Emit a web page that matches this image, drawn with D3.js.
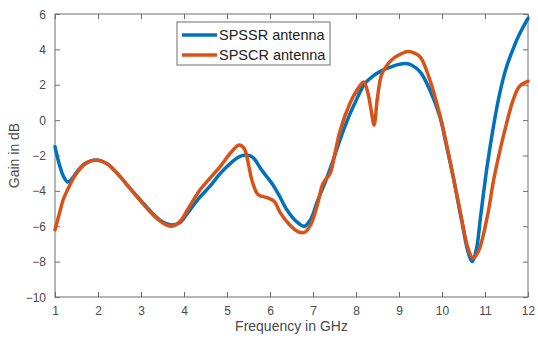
<!DOCTYPE html>
<html lang="en">
<head>
  <meta charset="UTF-8">
  <title>Gain vs frequency</title>
  <style>
    body { margin: 0; background: #fff; }
    text { font-family: "Liberation Sans", Arial, sans-serif; }
  </style>
</head>
<body>
<div id="chart"></div>
<script src="https://d3js.org/d3.v7.min.js"></script>
<script>

  // series data
  var seriesNames = ["SPSSR antenna", "SPSCR antenna"];
  var seriesColors = ["#0072BD", "#D95319"];

  var ssrFreq = [1.0, 1.1, 1.2, 1.3, 1.4, 1.5, 1.7, 1.95, 2.2, 2.5, 2.74, 3.0, 3.3, 3.5, 3.7, 3.9, 4.1, 4.37, 4.6, 4.85,
    5.1, 5.3, 5.45, 5.6, 5.8, 6.05, 6.2, 6.4, 6.6, 6.8, 6.95, 7.1, 7.3, 7.45, 7.63, 7.85, 8.0, 8.2, 8.4, 8.6,
    8.8, 9.0, 9.15, 9.3, 9.5, 9.7, 9.95, 10.1, 10.26, 10.45, 10.6, 10.7, 10.8, 10.9, 11.05, 11.2, 11.35, 11.5, 11.65, 11.8, 12.0];
  var ssrGain = [-1.5, -2.5, -3.2, -3.5, -3.3, -2.95, -2.45, -2.25, -2.45, -3.15, -3.85, -4.55, -5.35, -5.75, -5.93, -5.8, -5.2, -4.35, -3.75, -3.0,
    -2.4, -2.05, -1.97, -2.1, -2.8, -3.6, -4.2, -5.1, -5.7, -6.0, -5.6, -4.6, -3.4, -2.4, -1.1, 0.3, 1.1, 2.05, 2.5, 2.8,
    3.0, 3.15, 3.2, 3.1, 2.7, 1.8, 0.2, -1.4, -3.2, -5.6, -7.4, -8.0, -7.3, -5.4, -2.6, -0.3, 1.6, 3.0, 4.0, 4.85, 5.75];

  var scrFreq = [1.0, 1.1, 1.19, 1.3, 1.4, 1.55, 1.75, 1.95, 2.2, 2.5, 2.74, 3.0, 3.3, 3.5, 3.7, 3.9, 4.1, 4.37, 4.6, 4.85,
    5.1, 5.28, 5.4, 5.5, 5.58, 5.72, 5.95, 6.1, 6.23, 6.45, 6.65, 6.8, 6.95, 7.1, 7.23, 7.4, 7.5, 7.63, 7.86, 8.0,
    8.18, 8.27, 8.35, 8.42, 8.5, 8.6, 8.75, 8.9, 9.05, 9.2, 9.35, 9.5, 9.7, 9.95, 10.1, 10.26, 10.45, 10.6, 10.72, 10.85,
    11.05, 11.2, 11.35, 11.5, 11.65, 11.8, 12.0];
  var scrGain = [-6.2, -5.3, -4.5, -3.9, -3.4, -2.85, -2.4, -2.25, -2.45, -3.15, -3.85, -4.6, -5.4, -5.8, -6.0, -5.75, -5.0, -3.95, -3.3, -2.6,
    -1.8, -1.4, -1.6, -2.5, -3.4, -4.2, -4.4, -4.6, -5.2, -5.9, -6.3, -6.35, -5.9, -4.8, -3.6, -3.0, -2.0, -0.6, 0.95, 1.6,
    2.15, 1.6, 0.6, -0.28, 1.3, 2.6, 3.2, 3.55, 3.75, 3.88, 3.8, 3.55, 2.4, 0.3, -1.3, -3.2, -5.5, -7.2, -7.8, -7.4,
    -5.5, -3.4, -1.7, -0.2, 1.1, 1.9, 2.2];

  var xTicks = [1, 2, 3, 4, 5, 6, 7, 8, 9, 10, 11, 12];
  var yTicks = [-10, -8, -6, -4, -2, 0, 2, 4, 6];

  var w = 538, h = 340;
  var margin = {top: 14, right: 10, bottom: 43, left: 55};
  var innerWidth = w - margin.left - margin.right;
  var innerHeight = h - margin.top - margin.bottom;
  var axisColor = "#6e6e6e";
  var textColor = "#4a4a4a";

  var svg = d3.select("#chart").append("svg")
    .attr("width", w)
    .attr("height", h);

  var plot = svg.append("g")
    .attr("transform", `translate(${margin.left},${margin.top})`);

  var xScale = d3.scaleLinear().domain([1, 12]).range([0, innerWidth]);
  var yScale = d3.scaleLinear().domain([-10, 6]).range([innerHeight, 0]);

  function styleAxis(g) {
    g.attr("font-size", null).attr("font-family", null);
    g.select(".domain").remove();
    g.selectAll(".tick line").attr("stroke", axisColor);
    g.selectAll(".tick text").attr("fill", textColor).style("font-size", "12px");
  }

  // bottom / left axes with labels, inward ticks
  plot.append("g")
    .attr("transform", `translate(0,${innerHeight})`)
    .call(d3.axisBottom(xScale).tickValues(xTicks).tickSizeInner(-5).tickPadding(10))
    .call(styleAxis)
    .selectAll(".tick text").attr("y", 18).attr("dy", null);

  plot.append("g")
    .call(d3.axisLeft(yScale).tickValues(yTicks).tickSizeInner(-5).tickPadding(9))
    .call(styleAxis)
    .selectAll(".tick text").attr("dy", "4");

  // mirrored ticks on top / right (no labels)
  plot.append("g")
    .call(d3.axisTop(xScale).tickValues(xTicks).tickSizeInner(-5))
    .call(styleAxis)
    .selectAll(".tick text").remove();

  plot.append("g")
    .attr("transform", `translate(${innerWidth},0)`)
    .call(d3.axisRight(yScale).tickValues(yTicks).tickSizeInner(-5))
    .call(styleAxis)
    .selectAll(".tick text").remove();

  // box
  plot.append("rect")
    .attr("width", innerWidth)
    .attr("height", innerHeight)
    .attr("fill", "none")
    .attr("stroke", axisColor)
    .attr("stroke-width", 1);

  // lines
  var line = d3.line()
    .x(d => xScale(d[0]))
    .y(d => yScale(d[1]))
    .curve(d3.curveCatmullRom.alpha(0.5));

  plot.append("clipPath").attr("id", "clip")
    .append("rect").attr("x", -2).attr("y", -2)
    .attr("width", innerWidth + 4).attr("height", innerHeight + 4);

  var series = [
    d3.zip(ssrFreq, ssrGain),
    d3.zip(scrFreq, scrGain)
  ];

  plot.selectAll("path.series")
    .data(series)
    .enter()
    .append("path")
    .attr("class", "series")
    .attr("clip-path", "url(#clip)")
    .attr("d", line)
    .attr("fill", "none")
    .attr("stroke", (d, i) => seriesColors[i])
    .attr("stroke-width", 3.5)
    .attr("stroke-linejoin", "round")
    .attr("stroke-linecap", "round");

  // axis labels
  svg.append("text")
    .attr("x", margin.left + innerWidth / 2)
    .attr("y", 331)
    .attr("text-anchor", "middle")
    .attr("fill", textColor)
    .style("font-size", "14px")
    .text("Frequency in GHz");

  svg.append("text")
    .attr("transform", `translate(19,${margin.top + innerHeight / 2}) rotate(-90)`)
    .attr("text-anchor", "middle")
    .attr("fill", textColor)
    .style("font-size", "14px")
    .text("Gain in dB");

  // legend
  var legend = svg.append("g").attr("transform", "translate(177,22)");
  legend.append("rect")
    .attr("width", 153)
    .attr("height", 43)
    .attr("fill", "#fff")
    .attr("stroke", axisColor);

  var items = legend.selectAll("g.item")
    .data(seriesNames)
    .enter()
    .append("g")
    .attr("class", "item")
    .attr("transform", (d, i) => `translate(0,${13 + i * 20})`);

  items.append("line")
    .attr("x1", 5).attr("x2", 40)
    .attr("stroke", (d, i) => seriesColors[i])
    .attr("stroke-width", 3.5);

  items.append("text")
    .attr("x", 42)
    .attr("y", 5)
    .attr("fill", "#222")
    .style("font-size", "14.5px")
    .text(d => d);

</script>
</body>
</html>
